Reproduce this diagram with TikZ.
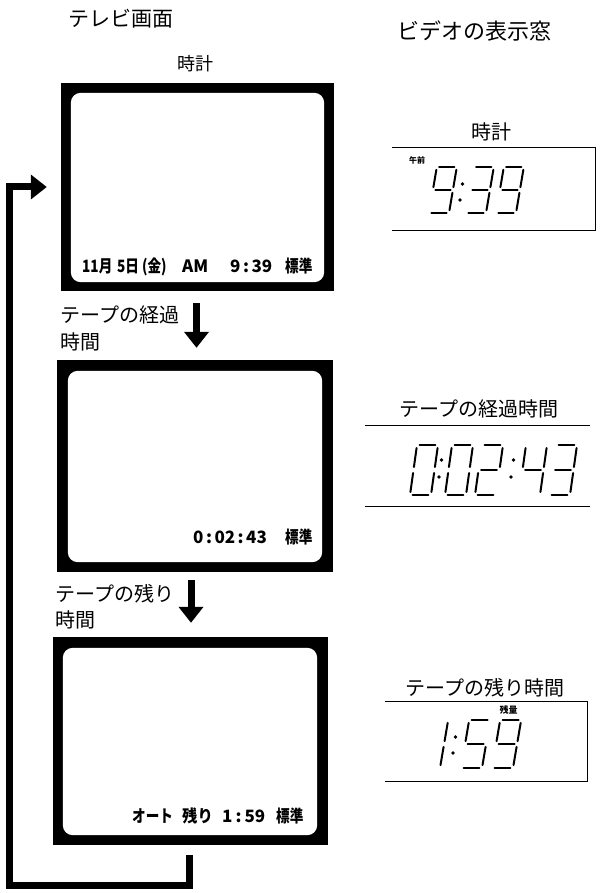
\documentclass[tikz,border=0pt]{standalone}
\usepackage{fontspec}
\usepackage{graphicx}
\newfontfamily\cjk{Noto Sans CJK JP}
\usetikzlibrary{arrows.meta}
\newcommand\lcdw{20}
\newcommand\lcdh{46}
\newcommand\lcds{0.17}
\newcommand\lcdline[6]{\draw[lcdseg] ({#1+\lcdw*#3+\lcds*\lcdh*#4},{#2-\lcdh*#4}) -- ({#1+\lcdw*#5+\lcds*\lcdh*#6},{#2-\lcdh*#6});}
\newcommand\lcddigit[9]{%
 \ifnum#3=1 \lcdline{#1}{#2}{0.12}{1}{0.88}{1}\fi
 \ifnum#4=1 \lcdline{#1}{#2}{1}{0.94}{1}{0.56}\fi
 \ifnum#5=1 \lcdline{#1}{#2}{1}{0.44}{1}{0.06}\fi
 \ifnum#6=1 \lcdline{#1}{#2}{0.12}{0}{0.88}{0}\fi
 \ifnum#7=1 \lcdline{#1}{#2}{0}{0.06}{0}{0.44}\fi
 \ifnum#8=1 \lcdline{#1}{#2}{0}{0.56}{0}{0.94}\fi
 \ifnum#9=1 \lcdline{#1}{#2}{0.12}{0.5}{0.88}{0.5}\fi}
\newcommand\tvt[1]{\scalebox{0.8}[1]{#1}}
\newcommand\tvc{\hspace{2.5pt}:\hspace{2.5pt}}
\tikzset{
 lbl/.style={inner sep=0pt, font=\cjk\fontsize{20}{20}\selectfont},
 tvframe/.style={fill=black, draw=none, inner sep=0pt},
 tvscreen/.style={fill=white, rounded corners=10pt},
 tvtxt/.style={anchor=base west, inner sep=0pt, font=\cjk\bfseries\fontsize{17}{17}\selectfont},
 bigarrow/.style={line width=7pt, line join=miter, -{Triangle[width=24pt,length=16pt]}},
 disp/.style={line width=1.3pt},
 dispbox/.style={draw=none, inner sep=0pt},
 lcdseg/.style={line width=2pt, line cap=round},
 tinylbl/.style={inner sep=0pt, font=\cjk\bfseries\fontsize{8}{8}\selectfont},
}
\begin{document}
\begin{tikzpicture}[x=1pt,y=-1pt]
\useasboundingbox (0,0) rectangle (605,893);
% titles
\node[lbl, font=\cjk\fontsize{21}{21}\selectfont] (ttl1) at (121,19) {テレビ画面};
\node[lbl, font=\cjk\fontsize{22}{22}\selectfont] (ttl2) at (474,31.5) {ビデオの表示窓};
\node[lbl, font=\cjk\fontsize{18}{18}\selectfont] (clk1) at (195,64) {時計};
% TV screens
\node[tvframe, minimum width=273pt, minimum height=208pt] (tv1) at (197.5,187) {};
\fill[tvscreen] ([xshift=10pt,yshift=-10pt]tv1.north west) rectangle ([xshift=-10pt,yshift=9pt]tv1.south east);
\node[tvframe, minimum width=276pt, minimum height=212pt] (tv2) at (195,466) {};
\fill[tvscreen] ([xshift=11pt,yshift=-11pt]tv2.north west) rectangle ([xshift=-11pt,yshift=10pt]tv2.south east);
\node[tvframe, minimum width=275pt, minimum height=208pt] (tv3) at (190.5,741) {};
\fill[tvscreen] ([xshift=10pt,yshift=-11pt]tv3.north west) rectangle ([xshift=-11pt,yshift=10pt]tv3.south east);
% TV texts
\node[tvtxt] (t1a) at (82,272) {\tvt{11月}};
\node[tvtxt] (t1b) at (117,272) {\tvt{5日}};
\node[tvtxt] (t1c) at (142,272) {\tvt{(金)}};
\node[tvtxt] (t1d) at (182,272) {AM};
\node[tvtxt] (t1e) at (230,272) {9\tvc39};
\node[tvtxt] (t1f) at (285,272) {\tvt{標準}};
\node[tvtxt] (t2a) at (193,543) {0\tvc02\tvc43};
\node[tvtxt] (t2b) at (285,543) {\tvt{標準}};
\node[tvtxt] (t3a) at (132,822) {\tvt{オート}};
\node[tvtxt] (t3b) at (182,822) {\scalebox{0.9}[1]{残り}};
\node[tvtxt] (t3c) at (222,822) {1\hspace{3pt}:\hspace{3pt}59};
\node[tvtxt] (t3d) at (276,822) {\tvt{標準}};
% side labels
\node[lbl, anchor=west] (l1a) at (60,315) {テープの経過};
\node[lbl, anchor=west] (l1b) at (60,341.5) {時間};
\node[lbl, anchor=west] (l2a) at (55,593.5) {テープの残り};
\node[lbl, anchor=west] (l2b) at (55,620) {時間};
% arrows
\coordinate (a1x) at (196.5,0);
\coordinate (a2x) at (191,0);
\coordinate (lx) at (189,0);
\coordinate (loopcorner) at (9,885);
\draw[bigarrow, shorten <=12pt, shorten >=12pt] (tv1.south -| a1x) -- (tv2.north -| a1x);
\draw[bigarrow, shorten <=8pt, shorten >=14pt] (tv2.south -| a2x) -- (tv3.north -| a2x);
\draw[bigarrow, shorten <=10pt, shorten >=14pt] (tv3.south -| lx) |- (loopcorner) |- (tv1.west);
% display windows
\node[lbl] (dl1) at (491,132) {時計};
\node[lbl] (dl2) at (479,408.5) {テープの経過時間};
\node[lbl] (dl3) at (485,688) {テープの残り時間};
\node[dispbox, minimum width=203pt, minimum height=82pt] (d1) at (493.5,189) {};
\draw[disp] (d1.north west) -- (d1.north east) -- (d1.south east) -- (d1.south west);
\node[dispbox, minimum width=225pt, minimum height=80pt] (d2) at (477.5,466) {};
\draw[disp] (d2.north west) -- (d2.north east);
\draw[disp] (d2.south west) -- (d2.south east);
\node[dispbox, minimum width=202pt, minimum height=79pt] (d3) at (486,741.5) {};
\draw[disp] (d3.north west) -- (d3.north east) -- (d3.south east) -- (d3.south west);
\node[tinylbl] (am) at (417,160) {午前};
\node[tinylbl, font=\cjk\bfseries\fontsize{9}{9}\selectfont] (zan) at (508.5,710) {残量};
% digits 9:39
\lcddigit{429}{213}1111011
\fill (460,200) circle (1.8pt);
\fill (462.5,184) circle (1.8pt);
\lcddigit{466}{213}1111001
\lcddigit{496}{213}1111011
% digits 0:02:43
\renewcommand\lcdw{21}\renewcommand\lcdh{50}\renewcommand\lcds{0.14}
\lcddigit{410}{495}1111110
\fill (439,477) circle (1.8pt);
\fill (441.5,460) circle (1.8pt);
\lcddigit{445}{495}1111110
\lcddigit{475}{495}1101101
\fill (511,477) circle (1.8pt);
\fill (513.5,460) circle (1.8pt);
\lcddigit{519}{495}0110011
\lcddigit{549}{495}1111001
% digits 1:59
\renewcommand\lcdw{21}\renewcommand\lcdh{48}\renewcommand\lcds{0.17}
\lcddigit{419}{768}0110000
\fill (453,753) circle (1.8pt);
\fill (455.5,737) circle (1.8pt);
\lcddigit{461}{768}1011011
\lcddigit{492}{768}1111011
\end{tikzpicture}
\end{document}
